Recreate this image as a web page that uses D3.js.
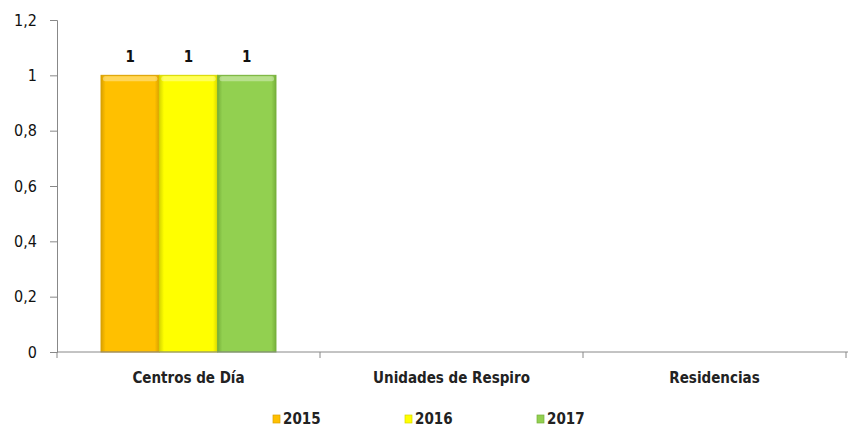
<!DOCTYPE html>
<html><head><meta charset="utf-8">
<script src="https://cdn.jsdelivr.net/npm/d3@7"></script>
<style>
html,body{margin:0;padding:0;background:#fff;}
text{font-family:"DejaVu Sans Condensed","Liberation Sans Narrow","Liberation Sans",Arial,sans-serif;font-stretch:condensed;}
</style></head>
<body>
<svg id="chart" width="848" height="431"></svg>
<script>
const categories = ["Centros de Día", "Unidades de Respiro", "Residencias"];
const years = ["2015", "2016", "2017"];
const values2015 = [1, 0, 0];
const values2016 = [1, 0, 0];
const values2017 = [1, 0, 0];
const yTicks = [0, 0.2, 0.4, 0.6, 0.8, 1, 1.2];
const colors = ["#FFC000", "#FFFF00", "#92D050"];
const edgeColors = ["#D9A000", "#D6D600", "#76B03A"];

const series = [values2015, values2016, values2017];
const svg = d3.select("#chart");
const x0 = d3.scaleBand().domain(categories).range([57, 846]).paddingInner(0).paddingOuter(0);
const x1 = d3.scaleBand().domain(years).range([0, x0.bandwidth()]).paddingOuter(0.755).paddingInner(0);
const y = d3.scaleLinear().domain([0, 1.2]).range([352, 20]);
const fmt = d => d3.format(",.1~f")(d).replace(".", ",");

// gradients
const defs = svg.append("defs");
years.forEach((yr, i) => {
  const g = defs.append("linearGradient").attr("id", "g" + i).attr("x1", 0).attr("x2", 1).attr("y1", 0).attr("y2", 0);
  g.append("stop").attr("offset", "0%").attr("stop-color", edgeColors[i]);
  g.append("stop").attr("offset", "8%").attr("stop-color", colors[i]);
  g.append("stop").attr("offset", "92%").attr("stop-color", colors[i]);
  g.append("stop").attr("offset", "100%").attr("stop-color", edgeColors[i]);
});

// y axis
const yAxis = d3.axisLeft(y).tickValues(yTicks).tickFormat(fmt).tickSize(7).tickPadding(13);
const ya = svg.append("g").attr("transform", "translate(57,0)").call(yAxis);
ya.select(".domain").attr("stroke", "#888");
ya.selectAll(".tick line").attr("stroke", "#888");
ya.selectAll(".tick text").attr("fill", "#111").style("font-size", "16px");

// bars
const groups = svg.append("g").selectAll("g").data(categories).join("g")
  .attr("transform", d => `translate(${x0(d)},0)`);
groups.each(function(cat, ci) {
  const g = d3.select(this);
  years.forEach((yr, si) => {
    const v = series[si][ci];
    if (!v) return;
    const bx = x1(yr), bw = x1.bandwidth();
    g.append("rect").attr("x", bx).attr("y", y(v)).attr("width", bw).attr("height", y(0) - y(v))
      .attr("fill", `url(#g${si})`).attr("stroke", edgeColors[si]).attr("stroke-width", 1);
    g.append("rect").attr("x", bx + 2).attr("y", y(v) + 1).attr("width", bw - 4).attr("height", 5)
      .attr("fill", "#fff").attr("opacity", 0.35).attr("rx", 2);
    g.append("text").attr("x", bx + bw / 2).attr("y", y(v) - 13).attr("text-anchor", "middle")
      .style("font-size", "15px").style("font-weight", "bold").attr("fill", "#111").text(fmt(v));
  });
});

// x axis
const xa = svg.append("g").attr("transform", "translate(0,352)");
xa.append("line").attr("x1", 57).attr("x2", 848).attr("stroke", "#888");
const bounds = [0, 1, 2, 3].map(i => 57 + i * x0.bandwidth());
xa.selectAll(".tk").data(bounds).join("line").attr("x1", d => d).attr("x2", d => d).attr("y1", 0).attr("y2", 6).attr("stroke", "#888");
xa.selectAll(".lbl").data(categories).join("text")
  .attr("x", d => x0(d) + x0.bandwidth() / 2).attr("y", 31).attr("text-anchor", "middle")
  .style("font-size", "15px").style("font-weight", "bold").attr("fill", "#222").text(d => d);

// legend
const legX = [273, 405, 537];
const leg = svg.append("g").selectAll("g").data(years).join("g")
  .attr("transform", (d, i) => `translate(${legX[i]},424)`);
leg.append("rect").attr("x", 0).attr("y", -9).attr("width", 7).attr("height", 8).attr("fill", (d, i) => colors[i]).attr("stroke", (d, i) => edgeColors[i]).attr("stroke-width", 0.7);
leg.append("text").attr("x", 10).attr("y", 0).style("font-size", "15px").style("font-weight", "bold").attr("fill", "#222").text(d => d);
</script>
</body></html>
